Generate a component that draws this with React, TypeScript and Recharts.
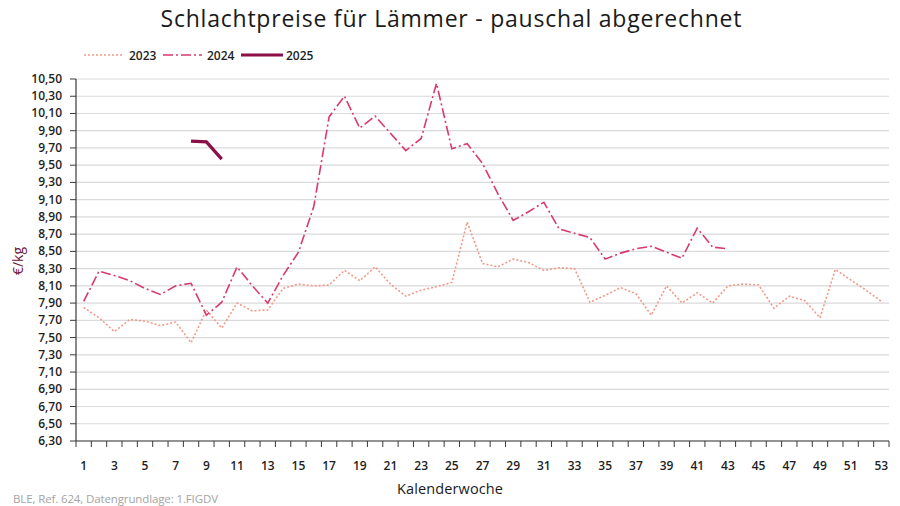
import React from 'react';
import { LineChart, Line, XAxis, YAxis, CartesianGrid } from 'recharts';

const weeks = [
  1, 2, 3, 4, 5, 6, 7, 8, 9, 10, 11, 12, 13, 14, 15, 16, 17, 18, 19, 20, 21, 22, 23, 24, 25, 26, 27,
  28, 29, 30, 31, 32, 33, 34, 35, 36, 37, 38, 39, 40, 41, 42, 43, 44, 45, 46, 47, 48, 49, 50, 51, 52, 53,
];

const prices2023 = [
  7.85, 7.73, 7.57, 7.71, 7.69, 7.64, 7.68, 7.44, 7.82, 7.61, 7.9, 7.81, 7.82, 8.07, 8.12, 8.1, 8.11,
  8.28, 8.16, 8.32, 8.12, 7.98, 8.05, 8.09, 8.14, 8.84, 8.36, 8.32, 8.41, 8.37, 8.28, 8.31, 8.3, 7.91,
  7.99, 8.08, 8.01, 7.76, 8.1, 7.9, 8.02, 7.9, 8.1, 8.12, 8.11, 7.84, 7.98, 7.93, 7.73, 8.29, 8.17,
  8.05, 7.92,
];

const prices2024 = [
  7.92, 8.27, 8.22, 8.16, 8.07, 8.0, 8.1, 8.13, 7.76, 7.91, 8.32, 8.1, 7.9, 8.22, 8.49, 9.02, 10.06,
  10.3, 9.93, 10.07, 9.87, 9.67, 9.81, 10.45, 9.69, 9.75, 9.52, 9.17, 8.86, 8.96, 9.07, 8.76, 8.71,
  8.66, 8.41, 8.48, 8.53, 8.56, 8.49, 8.42, 8.77, 8.55, 8.53,
];

const prices2025Weeks = [8, 9, 10];
const prices2025 = [9.78, 9.77, 9.57];

const yTicks = [
  6.3, 6.5, 6.7, 6.9, 7.1, 7.3, 7.5, 7.7, 7.9, 8.1, 8.3, 8.5, 8.7, 8.9, 9.1, 9.3, 9.5, 9.7, 9.9,
  10.1, 10.3, 10.5,
];

const xLabelWeeks = [
  1, 3, 5, 7, 9, 11, 13, 15, 17, 19, 21, 23, 25, 27, 29, 31, 33, 35, 37, 39, 41, 43, 45, 47, 49, 51, 53,
];

const seriesNames = ['2023', '2024', '2025'];

const data = weeks.map((w, i) => {
  const j = prices2025Weeks.indexOf(w);
  return {
    week: w,
    y2023: i < prices2023.length ? prices2023[i] : null,
    y2024: i < prices2024.length ? prices2024[i] : null,
    y2025: j >= 0 ? prices2025[j] : null,
  };
});

// layout
const W = 900;
const H = 506;
const PLOT_LEFT = 76;
const PLOT_RIGHT = 889;
const PLOT_TOP = 79;
const PLOT_BOTTOM = 441;
const STEP = (PLOT_RIGHT - PLOT_LEFT) / weeks.length;
const FONT = '"Open Sans", "Noto Sans", sans-serif';

const C2023 = '#f29a88';
const C2024 = '#d93a6c';
const C2025 = '#8a0f48';
const AXIS = '#3a3a3a';

const fmt = (v: number) => v.toFixed(2).replace('.', ',');

const XTick = (props: any) => {
  const { x, payload, index } = props;
  const w = payload.value;
  return (
    <g>
      <line x1={x - STEP / 2} x2={x - STEP / 2} y1={PLOT_BOTTOM} y2={PLOT_BOTTOM + 6} stroke={AXIS} strokeWidth={1} />
      {index === weeks.length - 1 && (
        <line x1={x + STEP / 2} x2={x + STEP / 2} y1={PLOT_BOTTOM} y2={PLOT_BOTTOM + 6} stroke={AXIS} strokeWidth={1} />
      )}
      {xLabelWeeks.includes(w) && (
        <text x={x} y={PLOT_BOTTOM + 29} textAnchor="middle" fontFamily={FONT} fontSize={12} fontWeight={600} fill="#1e1e1e">
          {w}
        </text>
      )}
    </g>
  );
};

const YTick = (props: any) => {
  const { x, y, payload } = props;
  return (
    <text x={x} y={y} dy={4} textAnchor="end" fontFamily={FONT} fontSize={12} fontWeight={600} fill="#1e1e1e">
      {fmt(payload.value)}
    </text>
  );
};

export default function App() {
  return (
    <div style={{ position: 'absolute', left: 0, top: 0, width: W, height: H, background: '#fff', overflow: 'hidden' }}>
      <LineChart
        width={W}
        height={H}
        data={data}
        margin={{ top: PLOT_TOP, right: W - PLOT_RIGHT, bottom: H - PLOT_BOTTOM - 30, left: 0 }}
      >
        <CartesianGrid vertical={false} stroke="#dadada" strokeWidth={1.2} />
        <XAxis
          dataKey="week"
          type="category"
          interval={0}
          height={30}
          padding={{ left: STEP / 2, right: STEP / 2 }}
          tick={<XTick />}
          tickLine={false}
          axisLine={{ stroke: AXIS, strokeWidth: 1.2 }}
        />
        <YAxis
          type="number"
          domain={[6.3, 10.5]}
          ticks={yTicks}
          interval={0}
          width={PLOT_LEFT}
          tickSize={6}
          tickMargin={8}
          tick={<YTick />}
          tickLine={{ stroke: AXIS }}
          axisLine={{ stroke: AXIS, strokeWidth: 1.2 }}
          allowDataOverflow
        />
        <Line
          dataKey="y2023"
          name={seriesNames[0]}
          stroke={C2023}
          strokeWidth={1.6}
          strokeDasharray="2 2"
          dot={false}
          activeDot={false}
          isAnimationActive={false}
          connectNulls={false}
        />
        <Line
          dataKey="y2024"
          name={seriesNames[1]}
          stroke={C2024}
          strokeWidth={1.6}
          strokeDasharray="10 3 2 3"
          dot={false}
          activeDot={false}
          isAnimationActive={false}
          connectNulls={false}
        />
        <Line
          dataKey="y2025"
          name={seriesNames[2]}
          stroke={C2025}
          strokeWidth={3.2}
          dot={false}
          activeDot={false}
          isAnimationActive={false}
          connectNulls={false}
        />
      </LineChart>
      <svg width={W} height={H} style={{ position: 'absolute', left: 0, top: 0, pointerEvents: 'none' }}>
        <text x={451} y={27} textAnchor="middle" fontFamily={FONT} fontSize={23} fill="#1a1a1a" textLength={581} lengthAdjust="spacing">
          Schlachtpreise für Lämmer - pauschal abgerechnet
        </text>
        {/* legend */}
        <line x1={84} x2={124} y1={55} y2={55} stroke={C2023} strokeWidth={1.6} strokeDasharray="2 2" />
        <text x={129} y={59.5} fontFamily={FONT} fontSize={12} fontWeight={600} fill="#1e1e1e">{seriesNames[0]}</text>
        <line x1={163} x2={202} y1={55} y2={55} stroke={C2024} strokeWidth={1.6} strokeDasharray="10 3 2 3" />
        <text x={207} y={59.5} fontFamily={FONT} fontSize={12} fontWeight={600} fill="#1e1e1e">{seriesNames[1]}</text>
        <line x1={241} x2={283} y1={55} y2={55} stroke={C2025} strokeWidth={3.2} />
        <text x={286} y={59.5} fontFamily={FONT} fontSize={12} fontWeight={600} fill="#1e1e1e">{seriesNames[2]}</text>
        {/* axis titles */}
        <text x={450} y={494} textAnchor="middle" fontFamily={FONT} fontSize={14.5} fill="#1a1a1a" textLength={106} lengthAdjust="spacing">
          Kalenderwoche
        </text>
        <text
          x={0}
          y={0}
          transform="translate(23,261) rotate(-90)"
          textAnchor="middle"
          fontFamily={FONT}
          fontSize={14}
          fill="#6b1238"
        >
          €/kg
        </text>
        <text x={13} y={503} fontFamily={FONT} fontSize={11.5} fill="#a3a3a3" textLength={205} lengthAdjust="spacing">
          BLE, Ref. 624, Datengrundlage: 1.FIGDV
        </text>
      </svg>
    </div>
  );
}
